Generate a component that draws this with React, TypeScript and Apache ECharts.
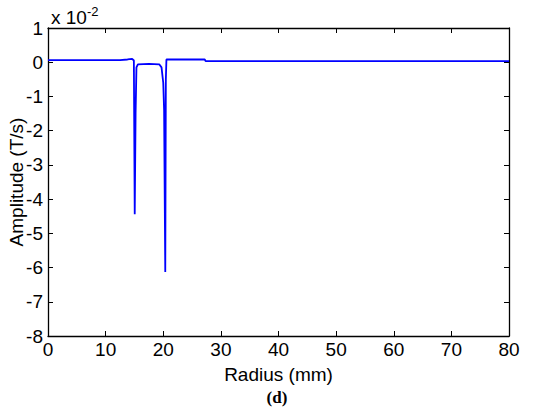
import React, { useEffect, useRef } from "react";
import * as echarts from "echarts";

// Radius (mm)
const radius = [0, 6, 12.5, 13.8, 14.6, 14.9, 15.05, 15.2, 15.35, 15.6, 17.5, 19.3, 19.7, 20.0, 20.15, 20.35, 20.45, 20.55, 24, 27.2, 27.35, 50, 80];
// Amplitude (x 10^-2 T/s)
const amplitude = [0.06, 0.06, 0.06, 0.08, 0.1, 0.05, -4.44, -1.5, -0.15, -0.06, -0.05, -0.06, -0.15, -0.6, -1.4, -6.13, -0.5, 0.08, 0.08, 0.08, 0.03, 0.03, 0.03];

const xTicks = [0, 10, 20, 30, 40, 50, 60, 70, 80];
const yTicks = [-8, -7, -6, -5, -4, -3, -2, -1, 0, 1];

const FONT = "Liberation Sans, Arial, sans-serif";

export default function App() {
  const ref = useRef<HTMLDivElement>(null);
  useEffect(() => {
    if (!ref.current) return;
    const chart = echarts.init(ref.current, null, { renderer: "svg" });
    const data = radius.map((r, i) => [r, amplitude[i]]);
    const axisCommon = {
      type: "value" as const,
      axisLine: { show: true, onZero: false, lineStyle: { color: "#000", width: 1.3 } },
      axisTick: { show: true, inside: true, length: 5, lineStyle: { color: "#000", width: 1 } },
      splitLine: { show: false },
    };
    chart.setOption({
      animation: false,
      backgroundColor: "#fff",
      grid: { left: 48, right: 41, top: 28, bottom: 76, containLabel: false, outerBoundsMode: "none" },
      xAxis: [
        {
          ...axisCommon,
          position: "bottom",
          min: xTicks[0],
          max: xTicks[xTicks.length - 1],
          interval: 10,
          axisLabel: { show: true, color: "#000", fontSize: 19, fontFamily: FONT, margin: 4, showMinLabel: true, showMaxLabel: true },
          name: "Radius (mm)",
          nameLocation: "middle",
          nameGap: 29,
          nameMoveOverlap: false,
          nameTextStyle: { color: "#000", fontSize: 19, fontFamily: FONT },
        },
        {
          ...axisCommon,
          position: "top",
          min: xTicks[0],
          max: xTicks[xTicks.length - 1],
          interval: 10,
          axisLabel: { show: false },
        },
      ],
      yAxis: [
        {
          ...axisCommon,
          position: "left",
          min: yTicks[0],
          max: yTicks[yTicks.length - 1],
          interval: 1,
          axisLabel: { show: true, color: "#000", fontSize: 19, fontFamily: FONT, margin: 5, showMinLabel: true, showMaxLabel: true },
        },
        {
          ...axisCommon,
          position: "right",
          min: yTicks[0],
          max: yTicks[yTicks.length - 1],
          interval: 1,
          axisLabel: { show: false },
        },
      ],
      graphic: [
        {
          type: "text",
          x: 16,
          y: 182,
          rotation: Math.PI / 2,
          style: {
            text: "Amplitude (T/s)",
            font: `19px ${FONT}`,
            fill: "#000",
            align: "center",
            verticalAlign: "middle",
          },
        },
        {
          type: "text",
          left: 51,
          top: 5,
          style: {
            text: "{a|x 10}{b|-2}",
            rich: {
              a: { fontSize: 19, fontFamily: FONT, fill: "#000", verticalAlign: "bottom", lineHeight: 22 },
              b: { fontSize: 13, fontFamily: FONT, fill: "#000", verticalAlign: "top", lineHeight: 22, padding: [0, 0, 10, 0] },
            },
          },
        },
        {
          type: "text",
          x: 277,
          y: 397,
          style: {
            text: "(d)",
            font: "bold 17px 'Liberation Serif', 'Times New Roman', serif",
            fill: "#000",
            align: "center",
            verticalAlign: "middle",
          },
        },
      ],
      series: [
        {
          type: "line",
          data,
          xAxisIndex: 0,
          yAxisIndex: 0,
          showSymbol: false,
          symbol: "none",
          lineStyle: { color: "#0000ff", width: 1.8 },
          clip: true,
        },
      ],
    });
    return () => chart.dispose();
  }, []);
  return (
    <div
      ref={ref}
      style={{ position: "absolute", left: 0, top: 0, width: 550, height: 412, overflow: "hidden" }}
    />
  );
}
